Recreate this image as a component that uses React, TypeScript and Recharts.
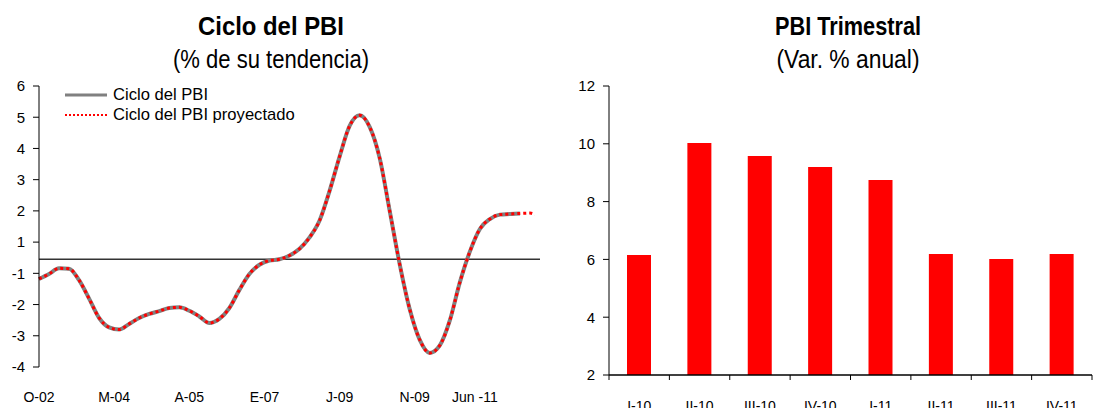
import { Bar, BarChart, Line, LineChart, ReferenceLine, XAxis, YAxis } from "recharts";

const FONT = "'Liberation Sans', Arial, sans-serif";
const NARROW = "'Liberation Sans Narrow', 'Arial Narrow', 'Liberation Sans', sans-serif";

// Ciclo del PBI (% de su tendencia) - values as read against the axis labels
const CYCLE_X = [
  0, 2, 4, 6, 8, 10, 12, 14, 16, 18, 20, 22, 24, 26, 28, 30, 32, 34, 36, 38, 40, 42, 44, 46, 48,
  50, 52, 54, 56, 58, 60, 62, 64, 66, 68, 70, 72, 74, 76, 78, 80, 82, 84, 86, 88, 90, 92, 94, 96, 98, 99,
];
const CYCLE_VALUES = [
  -1.18, -1.02, -0.68, -0.7, -1.22, -1.81, -2.43, -2.73, -2.8, -2.62, -2.43, -2.3, -2.21, -2.11, -2.09,
  -2.2, -2.38, -2.59, -2.46, -2.11, -1.53, -1.02, -0.45, -0.18, -0.1, 0.14, 0.57, 1.15, 1.69, 2.64, 3.74,
  4.72, 5.06, 4.69, 3.69, 2.0, -0.42, -2.15, -3.13, -3.55, -3.31, -2.51, -1.29, 0.39, 1.42, 1.74, 1.88,
  1.9, 1.92, 1.93, 1.88,
];
const CYCLE_OBS_END = 96; // observed series stops here, projection continues
const CYCLE_REF = -0.1;
const CYCLE_TICKS = [0, 15, 30, 45, 60, 75, 87];
const CYCLE_TICK_LABELS = ["O-02", "M-04", "A-05", "E-07", "J-09", "N-09", "Jun -11"];
const CYCLE_Y_LABELS = ["-4", "-3", "-2", "-1", "1", "2", "3", "4", "5", "6"];

// PBI Trimestral (Var. % anual)
const QUARTERS = ["I-10", "II-10", "III-10", "IV-10", "I-11", "II-11", "III-11", "IV-11"];
const GDP_GROWTH = [6.15, 10.03, 9.58, 9.2, 8.75, 6.19, 6.01, 6.19];
const GDP_TICKS = [2, 4, 6, 8, 10, 12];

// the left axis skips 0: labels 1..6 sit one step lower than their value
function toAxis(v: number) {
  if (v >= 1) return v - 1;
  if (v <= -1) return v;
  return (v - 1) / 2;
}

const BAR_W = 545;
const BAR_MARGIN = { top: 86, right: 13, bottom: 0, left: 0 };
const BAR_YAXIS_W = 49;
const BAND = (BAR_W - BAR_MARGIN.left - BAR_MARGIN.right - BAR_YAXIS_W) / QUARTERS.length;

function CycleTick({ x, y, payload }: any) {
  const k = CYCLE_TICKS.indexOf(payload.value);
  return (
    <text x={x} y={y + 35} textAnchor="middle" fontSize={14} fill="#000" fontFamily={FONT}>
      {CYCLE_TICK_LABELS[k]}
    </text>
  );
}

function QuarterTick({ x, y, payload, index }: any) {
  const half = BAND / 2;
  return (
    <g>
      <line x1={x - half} x2={x - half} y1={y} y2={y + 5} stroke="#000" strokeWidth={1} />
      {index === QUARTERS.length - 1 && (
        <line x1={x + half} x2={x + half} y1={y} y2={y + 5} stroke="#000" strokeWidth={1} />
      )}
      <text x={x} y={y + 36} textAnchor="middle" fontSize={14} fill="#000" fontFamily={FONT}>
        {payload.value}
      </text>
    </g>
  );
}

export default function App() {
  const cycleData = CYCLE_X.map((x, k) => ({
    x,
    obs: x <= CYCLE_OBS_END ? toAxis(CYCLE_VALUES[k]) : null,
    proj: toAxis(CYCLE_VALUES[k]),
  }));
  const gdpData = QUARTERS.map((q, k) => ({ q, v: GDP_GROWTH[k] }));
  const yTicks = CYCLE_Y_LABELS.map((_, k) => k - 4);

  return (
    <div style={{ position: "absolute", left: 0, top: 0, width: 1105, height: 408, background: "#fff", overflow: "hidden" }}>
      <div style={{ position: "absolute", left: 0, top: 0 }}>
        <LineChart width={560} height={408} data={cycleData} margin={{ top: 86, right: 20, bottom: 0, left: 0 }}>
          <XAxis
            dataKey="x"
            type="number"
            domain={[0, 100]}
            ticks={CYCLE_TICKS}
            interval={0}
            axisLine={false}
            tickLine={false}
            tickSize={0}
            tickMargin={0}
            height={41}
            tick={<CycleTick />}
          />
          <YAxis
            type="number"
            domain={[-4, 5]}
            ticks={yTicks}
            interval={0}
            width={39}
            axisLine={{ stroke: "#000", strokeWidth: 1 }}
            tickLine={{ stroke: "#000" }}
            tickSize={6}
            tickMargin={8}
            tickFormatter={(p: number) => CYCLE_Y_LABELS[p + 4]}
            tick={{ fontSize: 15, fill: "#000", fontFamily: FONT }}
          />
          <ReferenceLine y={toAxis(CYCLE_REF)} stroke="#333" strokeWidth={1.5} />
          <Line
            dataKey="obs"
            type="monotone"
            stroke="#808080"
            strokeWidth={4}
            dot={false}
            isAnimationActive={false}
          />
          <Line
            dataKey="proj"
            type="monotone"
            stroke="#ff0000"
            strokeWidth={3}
            strokeDasharray="3 3"
            dot={false}
            isAnimationActive={false}
          />
        </LineChart>
      </div>

      <div style={{ position: "absolute", left: 560, top: 0 }}>
        <BarChart width={BAR_W} height={408} data={gdpData} margin={BAR_MARGIN}>
          <XAxis
            dataKey="q"
            interval={0}
            axisLine={{ stroke: "#000", strokeWidth: 1.5 }}
            tickLine={false}
            tickSize={0}
            tickMargin={0}
            height={33}
            tick={<QuarterTick />}
          />
          <YAxis
            type="number"
            domain={[2, 12]}
            ticks={GDP_TICKS}
            interval={0}
            width={BAR_YAXIS_W}
            axisLine={{ stroke: "#000", strokeWidth: 1 }}
            tickLine={{ stroke: "#000" }}
            tickSize={6}
            tickMargin={8}
            tick={{ fontSize: 15, fill: "#000", fontFamily: FONT }}
          />
          <Bar dataKey="v" fill="#ff0000" barSize={24} isAnimationActive={false} />
        </BarChart>
      </div>

      <svg width={1105} height={408} style={{ position: "absolute", left: 0, top: 0, pointerEvents: "none" }}>
        <text x={271} y={35} textAnchor="middle" fontSize={26} fontWeight="bold" fontFamily={NARROW} fill="#000"
          textLength={146} lengthAdjust="spacingAndGlyphs">
          Ciclo del PBI
        </text>
        <text x={271} y={68} textAnchor="middle" fontSize={25} fontFamily={NARROW} fill="#000"
          textLength={196} lengthAdjust="spacingAndGlyphs">
          (% de su tendencia)
        </text>
        <text x={848} y={35} textAnchor="middle" fontSize={26} fontWeight="bold" fontFamily={NARROW} fill="#000"
          textLength={146} lengthAdjust="spacingAndGlyphs">
          PBI Trimestral
        </text>
        <text x={848} y={68} textAnchor="middle" fontSize={25} fontFamily={NARROW} fill="#000"
          textLength={143} lengthAdjust="spacingAndGlyphs">
          (Var. % anual)
        </text>

        <line x1={65} x2={107} y1={95} y2={95} stroke="#808080" strokeWidth={3} />
        <text x={113} y={100} fontSize={16.6} fontFamily={FONT} fill="#000">
          Ciclo del PBI
        </text>
        <line x1={65} x2={107} y1={115} y2={115} stroke="#ff0000" strokeWidth={2} strokeDasharray="2 2" />
        <text x={113} y={120} fontSize={16.6} fontFamily={FONT} fill="#000">
          Ciclo del PBI proyectado
        </text>
      </svg>
    </div>
  );
}
